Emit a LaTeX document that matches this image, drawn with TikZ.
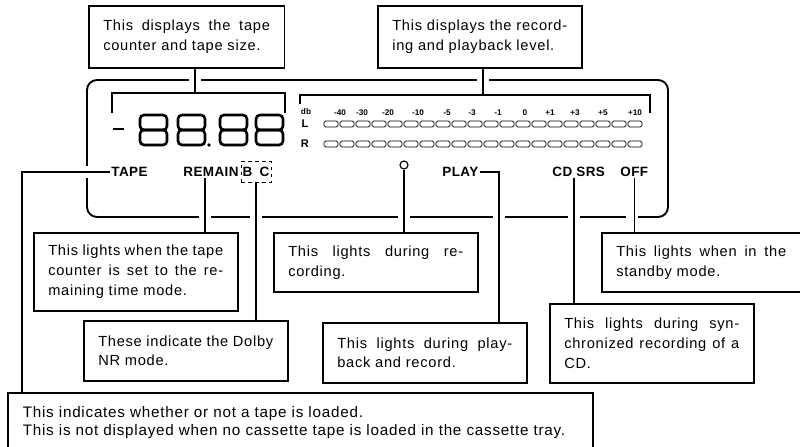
\documentclass[tikz,border=0pt]{standalone}
\usepackage{fontspec}
\setmainfont{Liberation Sans}
\newfontfamily\notefont{Liberation Sans}[LetterSpace=5]
\newfontfamily\lampfont{Liberation Sans}[LetterSpace=3]
\begin{document}
\begin{tikzpicture}[x=0.3mm, y=-0.3mm,
    panel/.style={line width=1.6pt, rounded corners=3mm},
    cut/.style={draw=white, line width=4pt},
    bracket/.style={line width=1.2pt},
    digit/.style={line width=2.2pt, rounded corners=1.2mm},
    seg/.style={line width=0.6pt, rounded corners=0.5mm},
    lamp/.style={font=\lampfont\bfseries\fontsize{11.5}{13}\selectfont, inner sep=1pt},
    scalemark/.style={font=\bfseries\fontsize{7}{8}\selectfont, inner sep=0pt},
    note/.style={draw, line width=1.3pt, anchor=north west, align=justify,
        text width=52.5mm, inner xsep=4.35mm, inner ysep=0pt,
        font=\notefont\fontsize{12.5}{17}\selectfont},
    lead/.style={line width=1pt}]

    \useasboundingbox (0,0) rectangle (800,447);
    \clip (0,0) rectangle (800,447);

    % panel outline, opened where the leads pass
    \draw[panel] (87,80) rectangle (668,217);
    \foreach \gx in {195,483} \draw[cut] (\gx-6,80) -- (\gx+6,80);
    \foreach \gx in {205,256,404,499,574,632} \draw[cut] (\gx-6,217) -- (\gx+6,217);
    \draw[cut] (87,166) -- (87,178);

    % brackets over counter and level meter
    \draw[bracket] (112,113) |- (285,93) -- (285,113);
    \draw[bracket] (300,104) |- (650,95) -- (650,113);
    \coordinate (cntpin) at (195,93);
    \coordinate (lvlpin) at (483,95);

    % counter digits
    \draw[digit] (113,129) -- (124,129);
    \foreach \dx in {140,178,220,256} {
        \draw[digit] (\dx,115) rectangle ++(27,15);
        \draw[digit] (\dx,130) rectangle ++(27,15);
    }
    \fill (209,145) circle (1.6pt);

    % level meter
    \node[scalemark] at (306,112) {db};
    \node[lamp, font=\bfseries\fontsize{9.5}{10}\selectfont] at (305,124) {L};
    \node[lamp, font=\bfseries\fontsize{9.5}{10}\selectfont] at (305,144) {R};
    \foreach \lbl/\lx in {-40/340, -30/362, -20/388, -10/418, -5/447, -3/472,
            -1/498, 0/525, +1/550, +3/575, +5/603, +10/635}
        \node[scalemark] at (\lx,113) {\lbl};
    \foreach \i in {0,...,19} {
        \draw[seg] (324+16*\i,121) rectangle ++(14,6);
        \draw[seg] (324+16*\i,141) rectangle ++(14,6);
    }

    % indicators
    \node[lamp, anchor=west] (tape) at (110,172) {TAPE};
    \node[lamp, anchor=west] (remain) at (182,172) {REMAIN};
    \node[lamp, draw, dashed, line width=0.8pt, minimum width=9mm,
        minimum height=6.3mm] (nr) at (256,172) {B\hspace{2.2mm}C};
    \node[circle, draw, line width=1pt, minimum size=2.4mm, inner sep=0pt] (rec) at (404,165) {};
    \node[lamp, anchor=west] (play) at (441,172) {PLAY};
    \node[lamp, anchor=west] (srs) at (551,172) {CD SRS};
    \node[lamp, anchor=west] (off) at (619,172) {OFF};

    % notes
    \node[note, text width=50mm, minimum height=18.6mm] (cntnote) at (88,5)
        {This displays the tape\linebreak counter and tape size.};
    \node[note, minimum height=18.6mm] (lvlnote) at (377,5)
        {This displays the record-\linebreak ing and playback level.};
    \node[note, minimum height=23.4mm] (remnote) at (33,232)
        {This lights when the tape\linebreak counter is set to the re-\linebreak maining time mode.};
    \node[note, minimum height=18mm] (nrnote) at (83,320)
        {These indicate the Dolby\linebreak NR mode.};
    \node[note, minimum height=17.7mm] (recnote) at (273,232)
        {This lights during re-\linebreak cording.};
    \node[note, minimum height=18mm] (playnote) at (322,322)
        {This lights during play-\linebreak back and record.};
    \node[note, minimum height=23.7mm] (srsnote) at (549,303)
        {This lights during syn-\linebreak chronized recording of a\linebreak CD.};
    \node[note, text width=51mm, minimum height=17.7mm] (offnote) at (601,232)
        {This lights when in the\linebreak standby mode.};
    \node[note, align=left, text width=166.5mm, inner xsep=4.5mm, minimum height=18mm,
        font=\notefont\fontsize{13}{15.5}\selectfont] (tapenote) at (7,392)
        {This indicates whether or not a tape is loaded.\\
         This is not displayed when no cassette tape is loaded in the cassette tray.};

    % leads
    \draw[lead] (cntpin |- cntnote.south) -- (cntpin);
    \draw[lead] (lvlpin |- lvlnote.south) -- (lvlpin);
    \draw[lead] (tape.west) -- (22,0 |- tape.west) -- (22,0 |- tapenote.north);
    \draw[lead] (205,0 |- remain.south) -- (205,0 |- remnote.north);
    \draw[lead] (nr.south) -- (nr.south |- nrnote.north);
    \draw[lead] (rec.south) -- (rec.south |- recnote.north);
    \draw[lead] (play.east) -- (499,0 |- play.east) -- (499,0 |- playnote.north);
    \draw[lead] (574,0 |- srs.south) -- (574,0 |- srsnote.north);
    \draw[lead] (off.south) -- (off.south |- offnote.north);

\end{tikzpicture}
\end{document}
